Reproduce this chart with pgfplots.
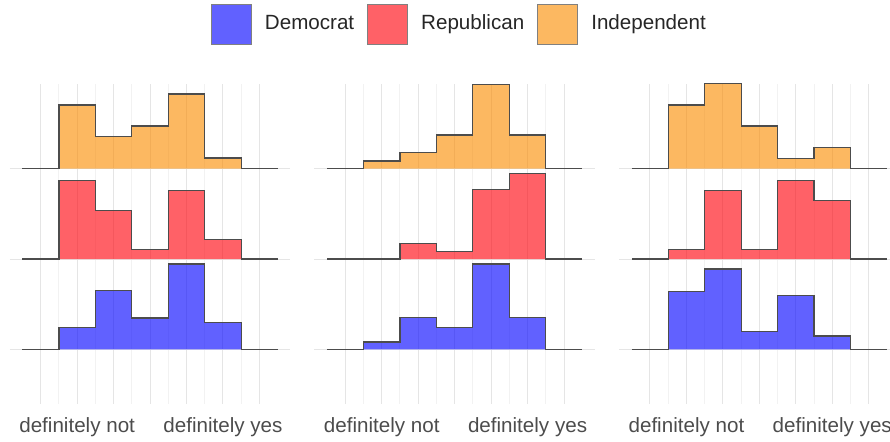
\documentclass[border=0pt]{standalone}
\usepackage{fontspec}
\setmainfont{Liberation Sans}
\usepackage{pgfplots}
\usepackage{pgfplotstable}
\pgfplotsset{compat=1.18}

\definecolor{dem}{RGB}{0,0,255}
\definecolor{rep}{RGB}{255,0,10}
\definecolor{ind}{RGB}{250,140,0}

% ridge heights (bin edges at x, last row closes the outline)
\pgfplotstableread{
x    dem   rep   ind
-0.5 0     0     0
0.5  22    78.3  63.7
1.5  58.7  48.7  32
2.5  31.3  9.3   42.7
3.5  85.3  68.3  74.7
4.5  26.7  19.3  10.7
5.5  0     0     0
6.5  0     0     0
}\panelA
\pgfplotstableread{
x    dem   rep   ind
-0.5 0     0     0
0.5  7.3   0     7.7
1.5  32    15.3  16.3
2.5  21.7  7.3   33.7
3.5  85.3  69.3  84.3
4.5  32    85.3  33.7
5.5  0     0     0
6.5  0     0     0
}\panelB
\pgfplotstableread{
x    dem   rep   ind
-0.5 0     0     0
0.5  57.7  9.3   63.7
1.5  80.3  68.3  85.3
2.5  17.7  9.3   42.7
3.5  53.7  78.3  10.3
4.5  13.3  58.7  21.3
5.5  0     0     0
6.5  0     0     0
}\panelC

\pgfplotsset{
  ridge/.style={
    width=140.35pt, height=159.85pt, scale only axis,
    xmin=-0.85, xmax=6.85, ymin=-0.6, ymax=2.94,
    axis line style={draw=none},
    major tick length=0pt, minor tick length=0pt,
    xtick={0,1,2,3,4,5,6},
    xticklabels={,definitely not,,,,definitely yes,},
    minor xtick={0.5,1.5,2.5,3.5,4.5,5.5},
    ytick={0,1,2}, yticklabels={},
    xmajorgrids, xminorgrids, ymajorgrids,
    major grid style={black!10, line width=0.5pt},
    minor grid style={black!5, line width=0.5pt},
    xticklabel style={font=\fontsize{10.3}{12}\selectfont, text=black!70, yshift=-3.5pt},
    clip=false,
  },
  hist/.style={const plot, line width=0.6pt, draw=black!70, fill opacity=0.62, forget plot},
}

\newcommand{\ridges}[1]{%
  \addplot[hist, fill=ind] table[x=x, y expr=\thisrow{ind}/90.3+2] {#1};
  \addplot[hist, fill=rep] table[x=x, y expr=\thisrow{rep}/90.3+1] {#1};
  \addplot[hist, fill=dem] table[x=x, y expr=\thisrow{dem}/90.3] {#1};
}

\begin{document}
\begin{tikzpicture}
\path[use as bounding box, clip] (0pt,0pt) rectangle (445pt,220.5pt);

\begin{axis}[ridge, at={(4.85pt,18.75pt)}, anchor=south west]
\ridges{\panelA}
\end{axis}

\begin{axis}[ridge, at={(157.15pt,18.75pt)}, anchor=south west,
  legend style={at={(0.5208,1.187)}, anchor=center, draw=none, fill=none,
    legend columns=-1, font=\fontsize{10.3}{12}\selectfont, text=black!85,
    /tikz/every odd column/.append style={column sep=4.4pt},
    /tikz/every even column/.append style={column sep=4.6pt}},
  legend image code/.code={\draw[#1] (0pt,-10pt) rectangle (20pt,10pt);}]
\addlegendimage{fill=dem, fill opacity=0.62, draw=black!50, line width=0.5pt}
\addlegendentry{Democrat}
\addlegendimage{fill=rep, fill opacity=0.62, draw=black!50, line width=0.5pt}
\addlegendentry{Republican}
\addlegendimage{fill=ind, fill opacity=0.62, draw=black!50, line width=0.5pt}
\addlegendentry{Independent}
\ridges{\panelB}
\end{axis}

\begin{axis}[ridge, at={(309.5pt,18.75pt)}, anchor=south west]
\ridges{\panelC}
\end{axis}
\end{tikzpicture}
\end{document}
